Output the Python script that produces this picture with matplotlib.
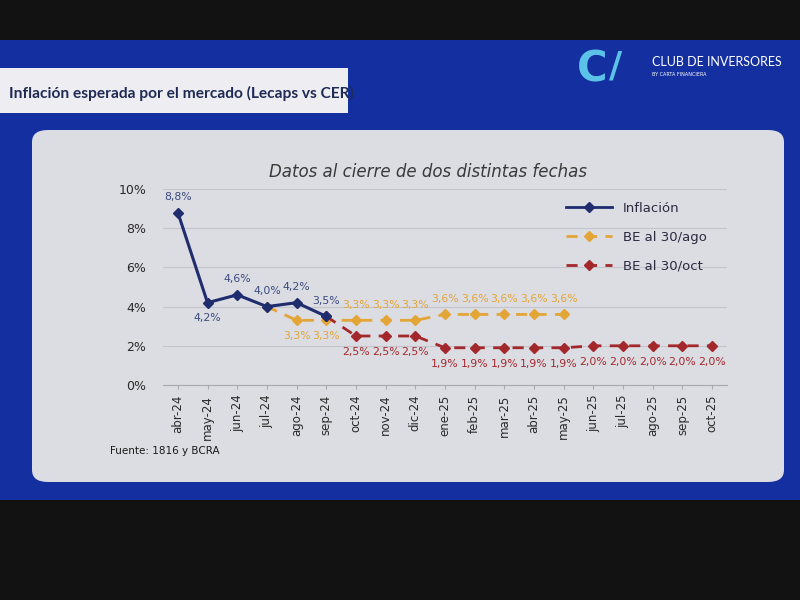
import matplotlib
matplotlib.use("Agg")
import matplotlib.pyplot as plt
from matplotlib.patches import FancyBboxPatch, Rectangle
from matplotlib.lines import Line2D

months = ["abr-24", "may-24", "jun-24", "jul-24", "ago-24", "sep-24", "oct-24", "nov-24",
          "dic-24", "ene-25", "feb-25", "mar-25", "abr-25", "may-25", "jun-25", "jul-25",
          "ago-25", "sep-25", "oct-25"]
inflacion = [8.8, 4.2, 4.6, 4.0, 4.2, 3.5] + [None] * 13
be_ago = [None, None, None, 4.0, 3.3, 3.3, 3.3, 3.3, 3.3, 3.6, 3.6, 3.6, 3.6, 3.6] + [None] * 5
be_oct = [None] * 5 + [3.5, 2.5, 2.5, 2.5, 1.9, 1.9, 1.9, 1.9, 1.9, 2.0, 2.0, 2.0, 2.0, 2.0]
# label placement: 1 above, -1 below, 0 none
infl_pos = [1, -1, 1, 1, 1, 1]
ago_pos = [0, 0, 0, 0, -1, -1, 1, 1, 1, 1, 1, 1, 1, 1]
oct_pos = [0, 0, 0, 0, 0, 0] + [-1] * 13
yticks = [0, 2, 4, 6, 8, 10]

c_inf = "#1f2c6e"
c_ago = "#e3a536"
c_oct = "#a3282c"

fig = plt.figure(figsize=(8, 6), dpi=100)
fig.patch.set_facecolor("#121212")

# slide blue band
fig.patches.append(Rectangle((0, 1 - 500 / 600), 1, 460 / 600, transform=fig.transFigure,
                             facecolor="#1430a0", edgecolor="none", zorder=0))
# white title box
fig.patches.append(Rectangle((0.0, 1 - 113 / 600), 348 / 800, 45 / 600, transform=fig.transFigure,
                             facecolor="#eeeef2", edgecolor="none", zorder=1))
fig.text(9 / 800, 1 - 93 / 600, "Inflación esperada por el mercado (Lecaps vs CER)",
         fontsize=11.2, fontweight="bold", color="#1f2a55", va="center", ha="left",
         family="Lato", zorder=2)
# logo
fig.text(592 / 800, 1 - 70 / 600, "C", fontsize=30, fontweight="bold", color="#5cc3e8",
         va="center", ha="center", zorder=2)
fig.text(616 / 800, 1 - 66 / 600, "/", fontsize=26, fontweight="bold", color="#5cc3e8",
         va="center", ha="center", zorder=2)
fig.text(652 / 800, 1 - 62 / 600, "CLUB DE INVERSORES", fontsize=9, color="white",
         va="center", ha="left", family="Lato", zorder=2)
fig.text(652 / 800, 1 - 75 / 600, "BY CARTA FINANCIERA", fontsize=3.5, color="white",
         va="center", ha="left", zorder=2)
# panel
fig.patches.append(FancyBboxPatch((32 / 800, 1 - 482 / 600), 752 / 800, 352 / 600,
                                  boxstyle="round,pad=0,rounding_size=0.02",
                                  transform=fig.transFigure, facecolor="#dcdce3",
                                  edgecolor="none", zorder=1))

ax = fig.add_axes([163 / 800, 1 - 385 / 600, 564 / 800, 196 / 600], zorder=3)
ax.set_facecolor("none")
x = list(range(len(months)))


def plot_series(vals, color, solid, pos, lc):
    xs = [i for i, v in enumerate(vals) if v is not None]
    ys = [v for v in vals if v is not None]
    ls = "-" if solid else (0, (4, 3))
    ax.plot(xs, ys, color=color, lw=2.2 if solid else 2.0, ls=ls,
            marker="D", ms=5, mfc=color, mec=color, zorder=4)
    for i, v in enumerate(vals):
        if v is None or i >= len(pos) or pos[i] == 0:
            continue
        dy = 0.55 if pos[i] > 0 else -0.55
        ax.text(i, v + dy, f"{v:.1f}%".replace(".", ","), color=lc, fontsize=7.8,
                ha="center", va="bottom" if pos[i] > 0 else "top", zorder=5)


plot_series(be_ago, c_ago, False, ago_pos, c_ago)
plot_series(be_oct, c_oct, False, oct_pos, c_oct)
plot_series(inflacion, c_inf, True, infl_pos, "#3b4a7e")

ax.set_xlim(-0.5, len(months) - 0.5)
ax.set_ylim(0, 10)
ax.set_yticks(yticks)
ax.set_yticklabels([f"{t}%" for t in yticks], fontsize=9, color="#2a2a2a")
ax.set_xticks(x)
ax.set_xticklabels(months, rotation=90, fontsize=8.5, color="#2a2a2a")
ax.tick_params(axis="y", length=0, pad=12)
ax.tick_params(axis="x", length=3, color="#aaaaaa", pad=4)
ax.grid(axis="y", color="#c4c4cc", lw=0.8)
for s in ["top", "right", "left"]:
    ax.spines[s].set_visible(False)
ax.spines["bottom"].set_color("#a8a8ae")
ax.set_axisbelow(True)

fig.text(428 / 800, 1 - 172 / 600, "Datos al cierre de dos distintas fechas", fontsize=12,
         style="italic", color="#3a3a3a", ha="center", va="center", zorder=4)

handles = [
    Line2D([], [], color=c_inf, lw=2, marker="D", ms=5),
    Line2D([], [], color=c_ago, lw=2, ls=(0, (4, 3)), marker="D", ms=5),
    Line2D([], [], color=c_oct, lw=2, ls=(0, (4, 3)), marker="D", ms=5),
]
ax.legend(handles, ["Inflación", "BE al 30/ago", "BE al 30/oct"], loc="upper right",
          bbox_to_anchor=(0.985, 0.995), frameon=False, fontsize=9.5, labelspacing=1.2,
          handlelength=3.5, labelcolor="#2a2a40")

fig.text(110 / 800, 1 - 451 / 600, "Fuente: 1816 y BCRA", fontsize=7.5, color="#1a1a1a",
         va="center", ha="left", zorder=4)

fig.savefig("out.png", dpi=100, facecolor=fig.get_facecolor())
